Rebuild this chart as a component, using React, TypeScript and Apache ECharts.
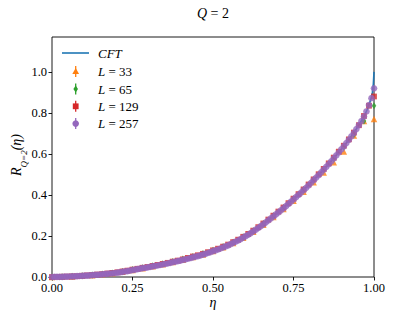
import React, { useEffect, useRef } from 'react';
import * as echarts from 'echarts';

const SERIF = 'Liberation Serif';

const X_TICKS = [0, 0.25, 0.5, 0.75, 1.0];
const Y_TICKS = [0, 0.2, 0.4, 0.6, 0.8, 1.0];

const CFT_ETA = [0, 0.05, 0.1, 0.15, 0.2, 0.25, 0.3, 0.35, 0.4, 0.45, 0.5, 0.55, 0.6, 0.65, 0.7, 0.75, 0.8, 0.85, 0.9, 0.925, 0.95, 0.97, 0.98, 0.99, 0.995, 0.998, 1];
const CFT_R = [0, 0.002, 0.006, 0.012, 0.020, 0.034, 0.050, 0.063, 0.081, 0.101, 0.126, 0.156, 0.197, 0.250, 0.311, 0.378, 0.452, 0.534, 0.625, 0.675, 0.733, 0.785, 0.82, 0.865, 0.90, 0.94, 1.0];

const ETA32 = [0, 0.0313, 0.0625, 0.0938, 0.125, 0.1563, 0.1875, 0.2188, 0.25, 0.2813, 0.3125, 0.3438, 0.375, 0.4063, 0.4375, 0.4688, 0.5, 0.5313, 0.5625, 0.5938, 0.625, 0.6563, 0.6875, 0.7188, 0.75, 0.7813, 0.8125, 0.8438, 0.875, 0.9063, 0.9375, 0.9688, 1];
const ETA64 = [0, 0.0156, 0.0313, 0.0469, 0.0625, 0.0781, 0.0938, 0.1094, 0.125, 0.1406, 0.1563, 0.1719, 0.1875, 0.2031, 0.2188, 0.2344, 0.25, 0.2656, 0.2813, 0.2969, 0.3125, 0.3281, 0.3438, 0.3594, 0.375, 0.3906, 0.4063, 0.4219, 0.4375, 0.4531, 0.4688, 0.4844, 0.5, 0.5156, 0.5313, 0.5469, 0.5625, 0.5781, 0.5938, 0.6094, 0.625, 0.6406, 0.6563, 0.6719, 0.6875, 0.7031, 0.7188, 0.7344, 0.75, 0.7656, 0.7813, 0.7969, 0.8125, 0.8281, 0.8438, 0.8594, 0.875, 0.8906, 0.9063, 0.9219, 0.9375, 0.9531, 0.9688, 0.9844, 1];
const ETA128 = [0, 0.0078, 0.0156, 0.0234, 0.0313, 0.0391, 0.0469, 0.0547, 0.0625, 0.0703, 0.0781, 0.0859, 0.0938, 0.1016, 0.1094, 0.1172, 0.125, 0.1328, 0.1406, 0.1484, 0.1563, 0.1641, 0.1719, 0.1797, 0.1875, 0.1953, 0.2031, 0.2109, 0.2188, 0.2266, 0.2344, 0.2422, 0.25, 0.2578, 0.2656, 0.2734, 0.2813, 0.2891, 0.2969, 0.3047, 0.3125, 0.3203, 0.3281, 0.3359, 0.3438, 0.3516, 0.3594, 0.3672, 0.375, 0.3828, 0.3906, 0.3984, 0.4063, 0.4141, 0.4219, 0.4297, 0.4375, 0.4453, 0.4531, 0.4609, 0.4688, 0.4766, 0.4844, 0.4922, 0.5, 0.5078, 0.5156, 0.5234, 0.5313, 0.5391, 0.5469, 0.5547, 0.5625, 0.5703, 0.5781, 0.5859, 0.5938, 0.6016, 0.6094, 0.6172, 0.625, 0.6328, 0.6406, 0.6484, 0.6563, 0.6641, 0.6719, 0.6797, 0.6875, 0.6953, 0.7031, 0.7109, 0.7188, 0.7266, 0.7344, 0.7422, 0.75, 0.7578, 0.7656, 0.7734, 0.7813, 0.7891, 0.7969, 0.8047, 0.8125, 0.8203, 0.8281, 0.8359, 0.8438, 0.8516, 0.8594, 0.8672, 0.875, 0.8828, 0.8906, 0.8984, 0.9063, 0.9141, 0.9219, 0.9297, 0.9375, 0.9453, 0.9531, 0.9609, 0.9688, 0.9766, 0.9844, 0.9922, 1];

const R_L33 = [0.000, 0.001, 0.003, 0.0055, 0.009, 0.013, 0.018, 0.025, 0.034, 0.043, 0.052, 0.062, 0.073, 0.084, 0.097, 0.110, 0.127, 0.145, 0.166, 0.191, 0.221, 0.255, 0.292, 0.331, 0.372, 0.415, 0.462, 0.510, 0.560, 0.612, 0.690, 0.760, 0.770];
const R_L65 = [0.000, 0.0015, 0.0035, 0.006, 0.010, 0.015, 0.020, 0.027, 0.036, 0.045, 0.055, 0.065, 0.076, 0.088, 0.100, 0.114, 0.131, 0.149, 0.170, 0.196, 0.226, 0.261, 0.299, 0.339, 0.381, 0.426, 0.474, 0.524, 0.578, 0.634, 0.695, 0.760, 0.835];
const R_L129 = [0.000, 0.0006, 0.0012, 0.002, 0.003, 0.004, 0.006, 0.008, 0.010, 0.012, 0.014, 0.017, 0.020, 0.023, 0.027, 0.031, 0.036, 0.040, 0.045, 0.049, 0.054, 0.059, 0.064, 0.069, 0.075, 0.080, 0.086, 0.093, 0.100, 0.106, 0.113, 0.121, 0.130, 0.138, 0.148, 0.158, 0.170, 0.182, 0.196, 0.210, 0.226, 0.243, 0.261, 0.280, 0.299, 0.319, 0.339, 0.360, 0.382, 0.404, 0.427, 0.451, 0.476, 0.501, 0.527, 0.554, 0.582, 0.611, 0.640, 0.671, 0.704, 0.740, 0.785, 0.835, 0.880];
const R_L257 = [0.000, 0.0003, 0.0005, 0.0008, 0.001, 0.0015, 0.002, 0.0025, 0.003, 0.0035, 0.004, 0.0048, 0.0055, 0.0063, 0.007, 0.008, 0.009, 0.010, 0.011, 0.012, 0.013, 0.0145, 0.016, 0.017, 0.018, 0.0195, 0.021, 0.023, 0.025, 0.027, 0.029, 0.0315, 0.034, 0.036, 0.038, 0.0405, 0.043, 0.045, 0.047, 0.0495, 0.052, 0.054, 0.056, 0.0585, 0.061, 0.0635, 0.066, 0.069, 0.072, 0.0745, 0.077, 0.080, 0.083, 0.086, 0.089, 0.0925, 0.096, 0.099, 0.102, 0.1055, 0.109, 0.113, 0.117, 0.1215, 0.126, 0.130, 0.134, 0.139, 0.144, 0.149, 0.154, 0.160, 0.166, 0.172, 0.178, 0.185, 0.192, 0.199, 0.206, 0.214, 0.222, 0.2305, 0.239, 0.248, 0.257, 0.2665, 0.276, 0.2855, 0.295, 0.305, 0.315, 0.325, 0.335, 0.3455, 0.356, 0.367, 0.378, 0.389, 0.400, 0.4115, 0.423, 0.435, 0.447, 0.4595, 0.472, 0.4845, 0.497, 0.510, 0.523, 0.5365, 0.550, 0.564, 0.578, 0.5925, 0.607, 0.622, 0.637, 0.653, 0.669, 0.686, 0.703, 0.721, 0.740, 0.760, 0.782, 0.807, 0.838, 0.872, 0.920];

const LEGEND_ROWS = [
  { label: '33', color: '#ff7f0e', shape: 'triangle' },
  { label: '65', color: '#2ca02c', shape: 'diamond' },
  { label: '129', color: '#d62728', shape: 'rect' },
  { label: '257', color: '#9467bd', shape: 'circle' },
];

const zip = (xs: number[], ys: number[]) => {
  const n = Math.min(xs.length, ys.length);
  const out: number[][] = [];
  for (let i = 0; i < n; i++) out.push([xs[i], ys[i]]);
  return out;
};

function legendMarker(shape: string, cx: number, cy: number, color: string): any {
  const style = { fill: color };
  if (shape === 'triangle') {
    return { type: 'polygon', shape: { points: [[cx, cy - 3.6], [cx - 3.4, cy + 2.6], [cx + 3.4, cy + 2.6]] }, style };
  }
  if (shape === 'diamond') {
    return { type: 'polygon', shape: { points: [[cx, cy - 3.6], [cx - 2.3, cy], [cx, cy + 3.6], [cx + 2.3, cy]] }, style };
  }
  if (shape === 'rect') {
    return { type: 'rect', shape: { x: cx - 2.9, y: cy - 2.9, width: 5.8, height: 5.8 }, style };
  }
  return { type: 'circle', shape: { cx, cy, r: 3.3 }, style };
}

export default function App() {
  const ref = useRef<HTMLDivElement>(null);
  useEffect(() => {
    const chart = echarts.init(ref.current!, null, { renderer: 'svg', width: 415, height: 311 });

    const legendEls: any[] = [
      { type: 'line', shape: { x1: 62, y1: 53, x2: 89, y2: 53 }, style: { stroke: '#1f77b4', lineWidth: 1.6 } },
      { type: 'text', x: 98, y: 53, style: { text: 'CFT', fontFamily: SERIF, fontStyle: 'italic', fontSize: 13, fill: '#000', verticalAlign: 'middle' } },
    ];
    const rowY = [71.5, 89, 106.3, 123.6];
    LEGEND_ROWS.forEach((r, i) => {
      const y = rowY[i];
      legendEls.push({ type: 'line', shape: { x1: 75.7, y1: y - 5.5, x2: 75.7, y2: y + 5.5 }, style: { stroke: r.color, lineWidth: 1.3 } });
      legendEls.push(legendMarker(r.shape, 75.7, y, r.color));
      legendEls.push({
        type: 'text', x: 98, y,
        style: {
          text: '{i|L} = ' + r.label,
          fontFamily: SERIF, fontSize: 13, fill: '#000', verticalAlign: 'middle',
          rich: { i: { fontFamily: SERIF, fontSize: 13, fontStyle: 'italic' } },
        },
      });
    });

    const option: any = {
      animation: false,
      backgroundColor: '#fff',
      textStyle: { fontFamily: SERIF },
      grid: { left: 52, right: 41, top: 37, bottom: 34, show: true, borderColor: '#000', borderWidth: 0.9, backgroundColor: 'transparent' },
      xAxis: {
        type: 'value', min: 0, max: 1, interval: 0.25,
        axisLine: { show: false },
        axisTick: { show: true, length: 3.5, lineStyle: { color: '#000', width: 0.9 }, customValues: X_TICKS },
        axisLabel: { color: '#000', fontFamily: SERIF, fontSize: 12.5, margin: 4.5, formatter: (v: number) => v.toFixed(2), customValues: X_TICKS },
        splitLine: { show: false },
      },
      yAxis: {
        type: 'value', min: 0, max: 1.17, interval: 0.2,
        axisLine: { show: false },
        axisTick: { show: true, length: 3.5, lineStyle: { color: '#000', width: 0.9 }, customValues: Y_TICKS },
        axisLabel: { color: '#000', fontFamily: SERIF, fontSize: 12.5, margin: 5, formatter: (v: number) => (v > 1.05 ? '' : v.toFixed(1)), customValues: Y_TICKS },
        splitLine: { show: false },
      },
      series: [
        { type: 'line', name: 'CFT', data: zip(CFT_ETA, CFT_R), showSymbol: false, symbol: 'none', lineStyle: { color: '#1f77b4', width: 1.6 }, clip: false, z: 2 },
        { type: 'scatter', name: 'L = 33', data: zip(ETA32, R_L33), symbol: 'triangle', symbolSize: 6.5, itemStyle: { color: '#ff7f0e' }, clip: false, z: 3 },
        { type: 'scatter', name: 'L = 65', data: zip(ETA32, R_L65), symbol: 'diamond', symbolSize: [4.6, 7], itemStyle: { color: '#2ca02c' }, clip: false, z: 4 },
        { type: 'scatter', name: 'L = 129', data: zip(ETA64, R_L129), symbol: 'rect', symbolSize: 5.8, itemStyle: { color: '#d62728' }, clip: false, z: 5 },
        { type: 'scatter', name: 'L = 257', data: zip(ETA128, R_L257), symbol: 'circle', symbolSize: 6.6, itemStyle: { color: '#9467bd' }, clip: false, z: 6 },
      ],
      graphic: [
        {
          type: 'text', x: 213, y: 13,
          style: {
            text: '{i|Q} = 2', fontFamily: SERIF, fontSize: 14, fill: '#000', align: 'center', verticalAlign: 'middle',
            rich: { i: { fontFamily: SERIF, fontSize: 14, fontStyle: 'italic' } },
          },
        },
        {
          type: 'text', x: 213, y: 302,
          style: { text: 'η', fontFamily: SERIF, fontSize: 14, fontStyle: 'italic', fill: '#000', align: 'center', verticalAlign: 'middle' },
        },
        {
          type: 'text', x: 16, y: 155, rotation: Math.PI / 2,
          style: {
            text: '{r|R}{s|Q=2}{r|(η)}', fill: '#000', align: 'center', verticalAlign: 'middle',
            rich: {
              r: { fontFamily: SERIF, fontSize: 14, fontStyle: 'italic', lineHeight: 16, verticalAlign: 'middle' },
              s: { fontFamily: SERIF, fontSize: 9, fontStyle: 'italic', lineHeight: 16, verticalAlign: 'bottom', padding: [0, 0, -4, 0] },
            },
          },
        },
        ...legendEls,
      ],
    };
    chart.setOption(option);
    return () => chart.dispose();
  }, []);
  return <div ref={ref} style={{ position: 'fixed', left: 0, top: 0, width: 415, height: 311 }} />;
}
